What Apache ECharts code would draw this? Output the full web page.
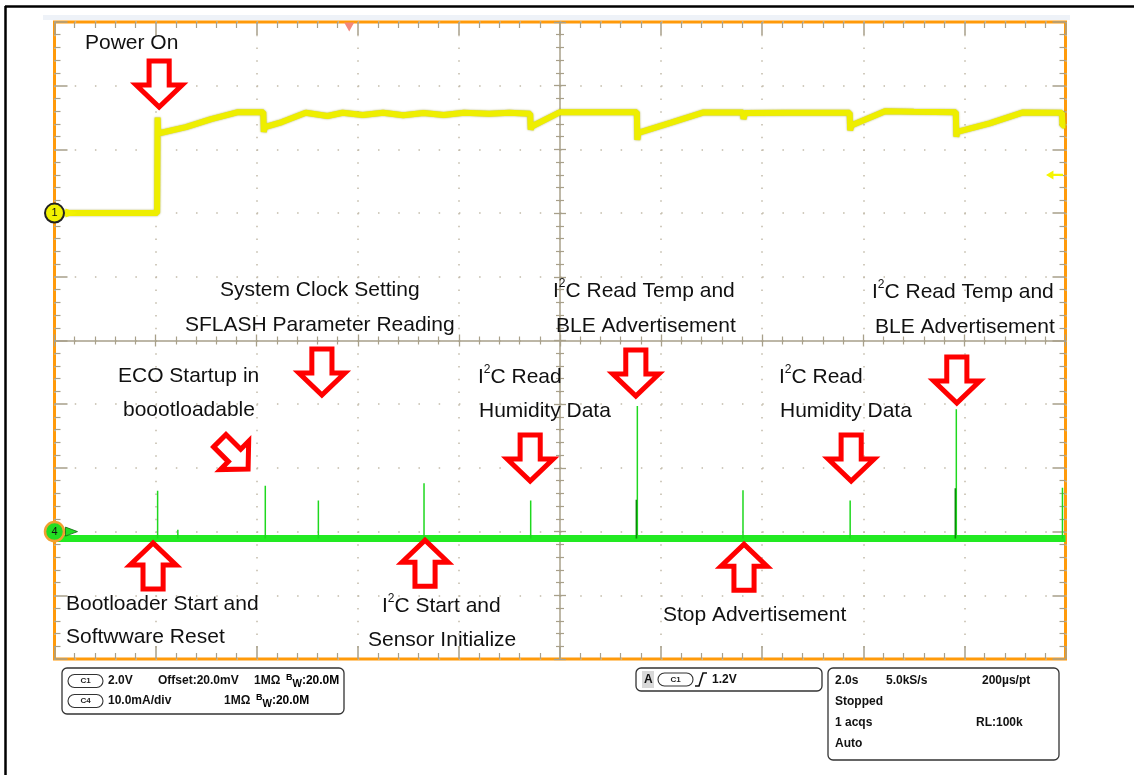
<!DOCTYPE html>
<html><head><meta charset="utf-8">
<script src="https://cdn.jsdelivr.net/npm/echarts@6/dist/echarts.min.js"></script>
<style>html,body{margin:0;padding:0;background:#fff}#c{width:1134px;height:775px}</style>
</head><body><div id="c"></div>
<script>
// ---- Channel 1 (supply voltage, V) vs time (s) ----
const c1Time = [0, 2.03, 2.04, 2.05, 2.06, 2.6, 3.1, 3.63, 4.13, 4.14, 4.16, 4.5, 4.97, 5.4, 5.7, 6.1, 6.5, 6.9, 7.3, 7.7, 8.1, 8.6, 9.0, 9.41, 9.42, 9.44, 10.0, 10.5, 11.52, 11.53, 11.55, 12.2, 12.84, 13.62, 13.63, 13.66, 14.5, 15.73, 15.74, 15.76, 16.43, 17.0, 17.83, 17.84, 17.86, 18.5, 19.16, 19.93, 19.94, 20];
const c1Volt = [0.0, 0.0, 3.0, 2.5, 2.45, 2.7, 2.95, 3.17, 3.17, 2.55, 2.7, 2.86, 3.15, 3.05, 3.15, 3.08, 3.15, 3.07, 3.14, 3.08, 3.15, 3.12, 3.15, 3.12, 2.62, 2.72, 3.17, 3.17, 3.17, 2.3, 2.52, 2.84, 3.16, 3.16, 2.95, 3.14, 3.15, 3.15, 2.6, 2.75, 3.2, 3.18, 3.17, 2.4, 2.55, 2.82, 3.16, 3.15, 2.75, 2.75];

// ---- Channel 4 (current, mA) ----
const c4BaseTime = [0, 20];
const c4BaseCurrent = [-1.1, -1.1];
const spikeTime = [2.04, 2.44, 4.17, 5.22, 7.31, 9.42, 11.53, 13.62, 15.74, 17.84, 19.94];
const spikePeak = [6.4, 0.3, 7.2, 4.9, 7.6, 4.9, 19.7, 6.5, 4.9, 19.2, 6.9];
const spike2Time = [11.51, 17.82];
const spike2Peak = [5.0, 6.8];

// ---- Scope settings ----
const timeRange = [0, 20], timeDiv = 2;       // 2.0 s/div
const c1Range = [-14, 6], c1Div = 2;           // 2.0 V/div
const c4Range = [-20, 80], c4Div = 10;         // 10 mA/div
const triggerTime = 5.83, triggerLevel = 1.2;

// ---- Annotation arrows: [time s, C1 level V, direction] ----
const arrowTime = [2.07, 5.29, 3.55, 9.41, 11.50, 15.76, 17.85, 1.95, 7.33, 13.64];
const arrowLevel = [4.05, -4.99, -7.59, -7.69, -5.02, -7.69, -5.24, -11.08, -10.99, -11.12];
const arrowDir = ['down', 'down', 'diag', 'down', 'down', 'down', 'down', 'up', 'up', 'up'];

const FONT = '"Liberation Sans", Arial, sans-serif';
const tickColor = '#a8a08a';
const dotColor = '#c2bba9';
const arrowPath = 'path://M13.5,0 L34.5,0 L34.5,25 L48,25 L24,48 L0,25 L13.5,25 Z';

const zip = (a, b) => a.map((v, i) => [v, b[i]]);
function spikes(ts, ps, base) {
  const out = [];
  ts.forEach((t, i) => { out.push([t, base], [t, ps[i]], [t, '-']); });
  return out;
}

function axisCommon(extra) {
  return Object.assign({
    type: 'value',
    axisLine: { show: false, onZero: false },
    axisLabel: { show: false },
    axisTick: { show: true, inside: true, length: 13, lineStyle: { color: tickColor, width: 1.5 } },
    minorTick: { show: true, splitNumber: 5, length: 6, lineStyle: { color: tickColor, width: 1.2 } },
    splitLine: { show: false }
  }, extra);
}
function centerAxis(extra, line) {
  return axisCommon(Object.assign({
    axisLine: { show: line, onZero: false, lineStyle: { color: tickColor, width: 1.5 } },
    axisTick: { show: true, inside: true, length: 6, lineStyle: { color: tickColor, width: 1.3 } },
    minorTick: { show: true, splitNumber: 5, length: 4, lineStyle: { color: tickColor, width: 1.2 } }
  }, extra));
}

const arrowMarks = arrowTime.map((t, i) => ({
  coord: [t, arrowLevel[i]],
  symbol: arrowPath,
  symbolSize: arrowDir[i] === 'diag' ? [40, 40] : [46, 46],
  symbolRotate: arrowDir[i] === 'up' ? 180 : (arrowDir[i] === 'diag' ? 45 : 0),
  itemStyle: { color: '#ffffff', borderColor: '#ff0000', borderWidth: 5 },
  label: { show: false }
}));

// ---- Text annotations ----
const sup = (pre, post) => `{a|${pre}}{b|2}{a|${post}}`;
const richA = { a: { fontSize: 21, lineHeight: 26, fontFamily: FONT, color: '#111' },
                b: { fontSize: 12, lineHeight: 14, fontFamily: FONT, color: '#111', verticalAlign: 'top' } };
const notes = [
  [85, 43, 'Power On'],
  [220, 290, 'System Clock Setting'],
  [185, 325, 'SFLASH Parameter Reading'],
  [553, 291, sup('I', 'C Read Temp and')],
  [556, 326, 'BLE Advertisement'],
  [872, 292, sup('I', 'C Read Temp and')],
  [875, 327, 'BLE Advertisement'],
  [118, 376, 'ECO Startup in'],
  [123, 410, 'boootloadable'],
  [478, 377, sup('I', 'C Read')],
  [479, 411, 'Humidity Data'],
  [779, 377, sup('I', 'C Read')],
  [780, 411, 'Humidity Data'],
  [66, 604, 'Bootloader Start and'],
  [66, 637, 'Softwware Reset'],
  [382, 606, sup('I', 'C Start and')],
  [368, 640, 'Sensor Initialize'],
  [663, 615, 'Stop Advertisement']
];

const graphics = [];
// outer frame lines
graphics.push({ type: 'line', shape: { x1: 5, y1: 6.5, x2: 1134, y2: 6.5 }, style: { stroke: '#000', lineWidth: 2.5 }, z: 100 });
graphics.push({ type: 'line', shape: { x1: 5.5, y1: 6, x2: 5.5, y2: 775 }, style: { stroke: '#000', lineWidth: 2.5 }, z: 100 });
graphics.push({ type: 'rect', shape: { x: 43, y: 15, width: 1027, height: 5 }, style: { fill: '#eef2f8' }, z: 1 });

notes.forEach(([x, y, s]) => {
  graphics.push({ type: 'text', x: x, y: y, z: 100,
    style: { text: s, rich: richA, font: '21px ' + FONT, fill: '#111', align: 'left', verticalAlign: 'middle' } });
});

// ---- Info boxes ----
const B12 = 'bold 12px ' + FONT;
function box(x, y, w, h) {
  graphics.push({ type: 'rect', shape: { x: x, y: y, width: w, height: h, r: 5 }, style: { fill: '#fff', stroke: '#333', lineWidth: 1.3 }, z: 100 });
}
function pill(x, y, label) {
  graphics.push({ type: 'rect', shape: { x: x, y: y - 6.5, width: 35, height: 13, r: 6.5 }, style: { fill: '#fff', stroke: '#333', lineWidth: 1.1 }, z: 101 });
  graphics.push({ type: 'text', x: x + 17.5, y: y, z: 102, style: { text: label, font: 'bold 8px ' + FONT, fill: '#222', align: 'center', verticalAlign: 'middle' } });
}
function t12(x, y, s) {
  graphics.push({ type: 'text', x: x, y: y, z: 102, style: { text: s, font: B12, fill: '#111', align: 'left', verticalAlign: 'middle' } });
}
function bw(x, y) {
  graphics.push({ type: 'text', x: x, y: y, z: 102, style: {
    text: '{s|B}{w|W}{t|:20.0M}', align: 'left', verticalAlign: 'middle',
    rich: { s: { fontSize: 9, fontWeight: 'bold', fontFamily: FONT, lineHeight: 16, verticalAlign: 'top', color: '#111' },
            w: { fontSize: 10, fontWeight: 'bold', fontFamily: FONT, lineHeight: 12, verticalAlign: 'bottom', color: '#111' },
            t: { fontSize: 12, fontWeight: 'bold', fontFamily: FONT, lineHeight: 16, color: '#111' } } } });
}
box(62, 668, 282, 46);
pill(68, 681, 'C1'); t12(108, 681, '2.0V'); t12(158, 681, 'Offset:20.0mV'); t12(254, 681, '1MΩ'); bw(286, 681);
pill(68, 701, 'C4'); t12(108, 701, '10.0mA/div'); t12(224, 701, '1MΩ'); bw(256, 701);

box(636, 668, 186, 23);
graphics.push({ type: 'rect', shape: { x: 642, y: 671, width: 12, height: 17 }, style: { fill: '#d8d8d8' }, z: 101 });
t12(644, 679.5, 'A');
pill(658, 679.5, 'C1');
graphics.push({ type: 'polyline', shape: { points: [[695, 686], [699, 686], [703, 673], [707, 673]] }, style: { stroke: '#111', lineWidth: 1.6, fill: null }, z: 102 });
t12(712, 679.5, '1.2V');

box(828, 668, 231, 92);
t12(835, 681, '2.0s'); t12(886, 681, '5.0kS/s'); t12(982, 681, '200µs/pt');
t12(835, 702, 'Stopped');
t12(835, 723, '1 acqs'); t12(976, 723, 'RL:100k');
t12(835, 744, 'Auto');

const option = {
  animation: false,
  backgroundColor: '#ffffff',
  grid: { left: 54.5, top: 22, width: 1011, height: 637, show: true, borderColor: '#ff9a0a', borderWidth: 3, backgroundColor: '#ffffff' },
  xAxis: [
    axisCommon({ min: timeRange[0], max: timeRange[1], interval: timeDiv, position: 'bottom',
      splitLine: { show: true, lineStyle: { color: dotColor, width: 1.5, type: [1.5, 11.24] } } }),
    axisCommon({ min: timeRange[0], max: timeRange[1], interval: timeDiv, position: 'top' }),
    centerAxis({ min: timeRange[0], max: timeRange[1], interval: timeDiv, position: 'bottom', offset: -318.5 }, true),
    centerAxis({ min: timeRange[0], max: timeRange[1], interval: timeDiv, position: 'top', offset: -318.5 }, false)
  ],
  yAxis: [
    axisCommon({ min: c1Range[0], max: c1Range[1], interval: c1Div, position: 'left',
      splitLine: { show: true, lineStyle: { color: dotColor, width: 1.5, type: [1.5, 18.72] } } }),
    axisCommon({ min: c4Range[0], max: c4Range[1], interval: c4Div, position: 'right' }),
    centerAxis({ min: 0, max: 10, interval: 1, position: 'left', offset: -505.5 }, true),
    centerAxis({ min: 0, max: 10, interval: 1, position: 'right', offset: -505.5 }, false)
  ],
  graphic: graphics,
  series: [
    { name: 'C4 base', type: 'line', xAxisIndex: 0, yAxisIndex: 1, showSymbol: false, z: 3,
      data: zip(c4BaseTime, c4BaseCurrent), lineStyle: { color: '#22ea22', width: 7 },
      markPoint: { animation: false, data: [
        { coord: [0, 0], symbol: 'circle', symbolSize: 19, itemStyle: { color: '#22dd22', borderColor: '#f0a030', borderWidth: 2.5 },
          label: { show: true, formatter: '4', color: '#111', fontSize: 11, fontFamily: FONT } },
        { coord: [0, 0], symbol: 'triangle', symbolRotate: -90, symbolSize: [9, 12], symbolOffset: [17, 0],
          itemStyle: { color: '#22dd22', borderColor: '#116611', borderWidth: 0.8 }, label: { show: false } }
      ] } },
    { name: 'C4 spikes', type: 'line', xAxisIndex: 0, yAxisIndex: 1, showSymbol: false, z: 4, connectNulls: false,
      data: spikes(spikeTime, spikePeak, c4BaseCurrent[0]), lineStyle: { color: '#1ed81e', width: 1.5 } },
    { name: 'C4 spikes 2', type: 'line', xAxisIndex: 0, yAxisIndex: 1, showSymbol: false, z: 4, connectNulls: false,
      data: spikes(spike2Time, spike2Peak, c4BaseCurrent[0]), lineStyle: { color: '#0c8a0c', width: 1.5 } },
    { name: 'C1', type: 'line', xAxisIndex: 0, yAxisIndex: 0, showSymbol: false, z: 5,
      data: zip(c1Time, c1Volt), lineStyle: { color: '#eeee00', width: 6, shadowColor: 'rgba(140,140,0,0.7)', shadowBlur: 2 },
      markPoint: { animation: false, z: 10, data: [
        { coord: [0, 0], symbol: 'circle', symbolSize: 19, itemStyle: { color: '#f2f200', borderColor: '#222', borderWidth: 2 },
          label: { show: true, formatter: '1', color: '#111', fontSize: 11, fontFamily: FONT } },
        { coord: [0, 0], symbol: 'triangle', symbolRotate: -90, symbolSize: [9, 12], symbolOffset: [17, 0],
          itemStyle: { color: '#f2f200' }, label: { show: false } },
        { coord: [timeRange[1], triggerLevel], symbol: 'path://M0,4 L7,0 L7,3 L16,3 L16,5 L7,5 L7,8 Z', symbolSize: [17, 9], symbolOffset: [-11, 0],
          itemStyle: { color: '#f5f500' }, label: { show: false } },
        { coord: [triggerTime, c1Range[1]], symbol: 'triangle', symbolRotate: 180, symbolSize: [10, 9], symbolOffset: [0, 5],
          itemStyle: { color: '#f4877a' }, label: { show: false } }
      ].concat(arrowMarks) } }
  ]
};

const chart = echarts.init(document.getElementById('c'), null, { renderer: 'canvas' });
chart.setOption(option);
</script>
</body></html>
